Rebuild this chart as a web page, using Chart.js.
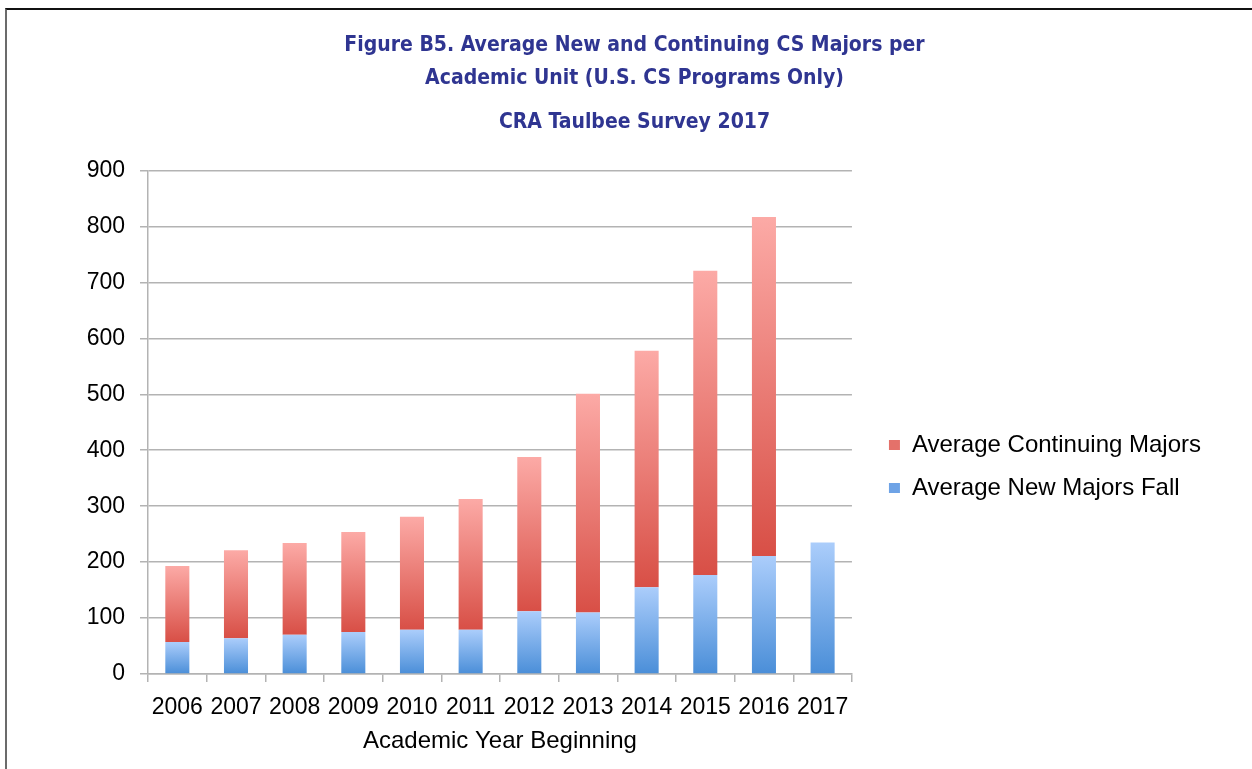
<!DOCTYPE html>
<html>
<head>
<meta charset="utf-8">
<script src="https://cdn.jsdelivr.net/npm/chart.js@4.4.1/dist/chart.umd.min.js"></script>
<style>
  html, body { margin: 0; padding: 0; background: #ffffff; }
  #wrap { position: relative; width: 1252px; height: 769px; overflow: hidden; }
  #frame { position: absolute; left: 5px; top: 8px; width: 1300px; height: 800px;
           border-top: 2px solid #111111; border-left: 2px solid #6b6b6b; }
  #box { position: absolute; left: 0; top: 0; width: 1252px; height: 769px; }
</style>
</head>
<body>
<div id="wrap">
  <div id="frame"></div>
  <div id="box"><canvas id="c"></canvas></div>
</div>
<script>
// ---- data ----
const years = ['2006','2007','2008','2009','2010','2011','2012','2013','2014','2015','2016','2017'];
const newMajors = [57, 64, 70, 75, 79, 79, 112, 110, 155, 177, 211, 235];
const continuingMajors = [136, 157, 164, 179, 202, 234, 276, 391, 423, 544, 606, null];
const yTicks = [0, 100, 200, 300, 400, 500, 600, 700, 800, 900];
const titleLines = ['Figure B5. Average New and Continuing CS Majors per', 'Academic Unit (U.S. CS Programs Only)'];
const subtitleText = 'CRA Taulbee Survey 2017';
const xTitle = 'Academic Year Beginning';
const seriesNames = ['Average New Majors Fall', 'Average Continuing Majors'];

// ---- styles ----
const RED_TOP = '#fcaaa6', RED_BOT = '#d84f46';
const BLUE_TOP = '#abcdfb', BLUE_BOT = '#4a8ed8';
const GRID = '#b3b3b3';
const TITLE_COLOR = '#2f3591';
const TITLE_FONT = "'DejaVu Sans Condensed', 'Liberation Sans Narrow', Roboto, sans-serif";
const BODY_FONT = "'Liberation Sans', Arial, Helvetica, sans-serif";

function segGradient(ctx, topCol, botCol, baseVals, topVals) {
  const chart = ctx.chart;
  const y = chart.scales && chart.scales.y;
  const i = ctx.dataIndex;
  if (!y || i === undefined || !chart.chartArea) return botCol;
  const b = baseVals ? (baseVals[i] || 0) : 0;
  const t = b + (topVals[i] || 0);
  const yTop = y.getPixelForValue(t), yBot = y.getPixelForValue(b);
  if (!isFinite(yTop) || !isFinite(yBot) || yTop === yBot) return botCol;
  const g = chart.ctx.createLinearGradient(0, yTop, 0, yBot);
  g.addColorStop(0, topCol);
  g.addColorStop(1, botCol);
  return g;
}

const PAD_L = 58, PAD_R = 41, PAD_B = 5;

new Chart(document.getElementById('c'), {
  type: 'bar',
  data: {
    labels: years,
    datasets: [
      {
        label: seriesNames[0],
        data: newMajors,
        backgroundColor: (ctx) => segGradient(ctx, BLUE_TOP, BLUE_BOT, null, newMajors),
        borderWidth: 0,
        categoryPercentage: 1.0,
        barPercentage: 0.41
      },
      {
        label: seriesNames[1],
        data: continuingMajors,
        backgroundColor: (ctx) => segGradient(ctx, RED_TOP, RED_BOT, newMajors, continuingMajors),
        borderWidth: 0,
        categoryPercentage: 1.0,
        barPercentage: 0.41
      }
    ]
  },
  options: {
    responsive: true,
    maintainAspectRatio: false,
    animation: false,
    layout: { padding: { left: PAD_L, right: PAD_R, top: 0, bottom: PAD_B } },
    scales: {
      x: {
        stacked: true,
        grid: { display: true, drawOnChartArea: false, drawTicks: true, tickLength: 8, offset: true, color: GRID, lineWidth: 1.5 },
        border: { display: true, color: GRID, width: 1.5 },
        ticks: { color: '#000', font: { family: BODY_FONT, size: 23 }, padding: 12, maxRotation: 0, autoSkip: false },
        title: { display: true, text: xTitle, color: '#000', font: { family: BODY_FONT, size: 24 }, padding: { top: 0, bottom: 8 } },
        afterFit: (s) => { s.height = 769 - PAD_B - 674; }
      },
      y: {
        stacked: true,
        min: 0,
        max: 900,
        afterBuildTicks: (s) => { s.ticks = yTicks.map(v => ({ value: v })); },
        grid: { color: GRID, lineWidth: 1.5, tickLength: 8, drawTicks: true },
        border: { display: true, color: GRID, width: 1.5 },
        ticks: { color: '#000', font: { family: BODY_FONT, size: 23 }, padding: 15 },
        afterFit: (s) => { s.width = 148 - PAD_L; }
      },
      gap: {
        position: 'right',
        display: true,
        grid: { display: false },
        border: { display: false },
        ticks: { display: false },
        afterFit: (s) => { s.width = 18; }
      }
    },
    plugins: {
      title: {
        display: true,
        text: titleLines,
        color: TITLE_COLOR,
        font: { family: TITLE_FONT, size: 21, weight: 'bold', lineHeight: 1.58 },
        padding: { top: 29, bottom: 8 }
      },
      subtitle: {
        display: true,
        text: subtitleText,
        color: TITLE_COLOR,
        font: { family: TITLE_FONT, size: 21, weight: 'bold', lineHeight: 1.58 },
        padding: { top: 3, bottom: 31 }
      },
      legend: {
        position: 'right',
        fullSize: false,
        reverse: true,
        maxWidth: 420,
        title: { display: true, text: ' ', font: { size: 12 }, padding: { top: 74, bottom: 0 } },
        labels: {
          color: '#000',
          font: { family: BODY_FONT, size: 24 },
          boxWidth: 11,
          boxHeight: 10,
          padding: 19,
          generateLabels: (chart) => chart.data.datasets.map((ds, i) => ({
            text: ds.label,
            fillStyle: i === 0 ? '#6ea3e6' : '#e4716a',
            strokeStyle: 'rgba(0,0,0,0)',
            lineWidth: 0,
            hidden: false,
            datasetIndex: i,
            fontColor: '#000'
          }))
        }
      },
      tooltip: { enabled: false }
    }
  }
});
</script>
</body>
</html>
